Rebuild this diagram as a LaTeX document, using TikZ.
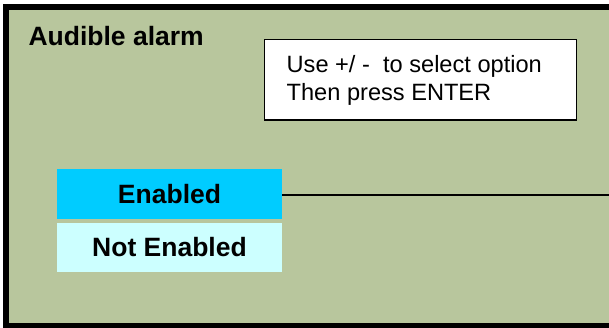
\documentclass[tikz,border=0pt]{standalone}
\usepackage{fontspec}
\setmainfont{Liberation Sans}
\definecolor{panelgreen}{HTML}{B8C69D}
\definecolor{selcyan}{HTML}{00CCFF}
\definecolor{palecyan}{HTML}{CCFFFF}
\tikzset{
  frame/.style={draw=black, fill=panelgreen, line width=5.5pt},
  optionbox/.style={rectangle, inner sep=0pt, minimum width=225pt, minimum height=49.5pt,
    font=\fontsize{26.5pt}{30pt}\selectfont\bfseries},
  hintbox/.style={rectangle, draw=black, fill=white, line width=1.5pt,
    inner xsep=22.2pt, inner ysep=0pt, text width=267.8pt, minimum height=80.5pt,
    align=flush left, text height=18.5pt, font=\fontsize{23.6pt}{28.3pt}\selectfont},
  titletext/.style={inner sep=0pt, anchor=base west, font=\fontsize{26.5pt}{30pt}\selectfont\bfseries},
  link/.style={draw=black, line width=2pt}
}
\begin{document}
\begin{tikzpicture}[x=1pt,y=-1pt]
\useasboundingbox (0,0) rectangle (609,327);
\begin{scope}
\clip (0,0) rectangle (609,327);
\draw[frame] (6,6.8) rectangle (611.5,325.5);
\end{scope}
\node[titletext] (title) at (28.3,45) {Audible alarm};
\node[hintbox] (hint) at (420.6,79.75) {Use +/ -\ \ to select option\\Then press ENTER};
\node[optionbox, fill=selcyan] (enabled) at (169.5,194) {Enabled};
\node[optionbox, fill=palecyan] (notenabled) at (169.5,247.5) {Not Enabled};
\coordinate (edge) at (609,194.5);
\draw[link] (enabled.east |- edge) -- (edge);
\end{tikzpicture}
\end{document}
